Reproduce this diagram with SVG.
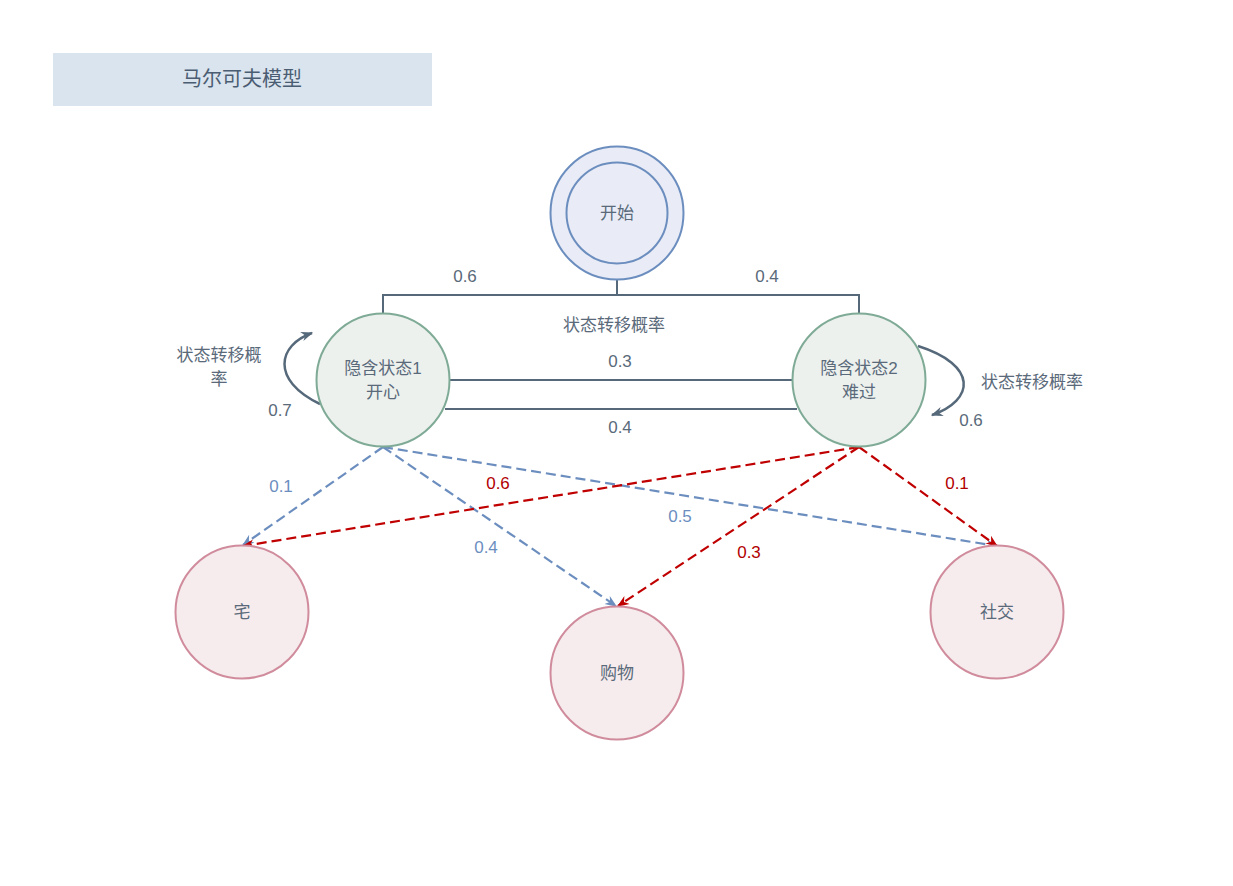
<svg xmlns="http://www.w3.org/2000/svg" width="1233" height="886" viewBox="0 0 1233 886">
<style>
text{font-family:"Liberation Sans","Noto Sans CJK SC",sans-serif;font-size:17px;text-anchor:middle;dominant-baseline:central;fill:#5a6a7a}
.start{fill:#e9ecf7;stroke:#6c8ebf;stroke-width:2}
.hid{fill:#edf1ee;stroke:#7eaa96;stroke-width:2}
.obs{fill:#f6ecee;stroke:#d08c9c;stroke-width:2}
.solid{fill:none;stroke:#56697a;stroke-width:2}
.blue{fill:none;stroke:#6c8ebf;stroke-width:2.2;stroke-dasharray:10 5}
.red{fill:none;stroke:#c00000;stroke-width:2.2;stroke-dasharray:10 5}
.lb{fill:#6c8ebf}
.lr{fill:#b20000}
</style>
<defs>
<marker id="ag" viewBox="0 0 10 10" refX="9" refY="5" markerWidth="12" markerHeight="12" markerUnits="userSpaceOnUse" orient="auto"><path d="M0,1 L10,5 L0,9 L3,5 z" fill="#56697a"/></marker>
<marker id="ab" viewBox="0 0 10 10" refX="9" refY="5" markerWidth="12" markerHeight="12" markerUnits="userSpaceOnUse" orient="auto"><path d="M0,1 L10,5 L0,9 L3,5 z" fill="#6c8ebf"/></marker>
<marker id="ar" viewBox="0 0 10 10" refX="9" refY="5" markerWidth="12" markerHeight="12" markerUnits="userSpaceOnUse" orient="auto"><path d="M0,1 L10,5 L0,9 L3,5 z" fill="#c00000"/></marker>
</defs>
<rect width="1233" height="886" fill="#fff"/>
<g id="title"><rect x="53" y="53" width="379" height="53" fill="#dae4ee"/><text x="242" y="79" style="font-size:20px;fill:#4b5d72">马尔可夫模型</text></g>
<g id="connectors">
<path class="solid" d="M617,280 V295 M383,313 V295 H859 V313"/>
<path class="solid" d="M450,380 H793 M445,409 H797"/>
<path d="M320,404 C270,380 278,345 312,333" fill="none" stroke="#56697a" stroke-width="2.5" marker-end="url(#ag)"/>
<path d="M918,346 C978,365 975,400 932,415" fill="none" stroke="#56697a" stroke-width="2.5" marker-end="url(#ag)"/>
<line class="blue" x1="383" y1="447" x2="243" y2="545" marker-end="url(#ab)"/>
<line class="blue" x1="383" y1="447" x2="616" y2="606" marker-end="url(#ab)"/>
<line class="blue" x1="383" y1="447" x2="997" y2="546" marker-end="url(#ab)"/>
<line class="red" x1="859" y1="447" x2="243" y2="546" marker-end="url(#ar)"/>
<line class="red" x1="859" y1="447" x2="618" y2="606" marker-end="url(#ar)"/>
<line class="red" x1="859" y1="447" x2="997" y2="546" marker-end="url(#ar)"/>
<text x="465" y="276">0.6</text>
<text x="767" y="276">0.4</text>
<text x="614" y="325">状态转移概率</text>
<text x="620" y="361">0.3</text>
<text x="620" y="427">0.4</text>
<text x="219" y="355">状态转移概</text>
<text x="219" y="379">率</text>
<text x="280" y="410">0.7</text>
<text x="1032" y="382">状态转移概率</text>
<text x="971" y="420">0.6</text>
<text class="lb" x="281" y="486">0.1</text>
<text class="lb" x="486" y="547">0.4</text>
<text class="lb" x="680" y="516">0.5</text>
<text class="lr" x="498" y="483">0.6</text>
<text class="lr" x="749" y="552">0.3</text>
<text class="lr" x="957" y="483">0.1</text>
</g>
<g id="start"><circle class="start" cx="617" cy="213" r="66.5"/><circle class="start" cx="617" cy="213" r="50.5"/><text x="617" y="213">开始</text></g>
<g id="hidden1"><circle class="hid" cx="383" cy="380" r="66.5"/><text x="383" y="368">隐含状态1</text><text x="383" y="392">开心</text></g>
<g id="hidden2"><circle class="hid" cx="859" cy="380" r="66.5"/><text x="859" y="368">隐含状态2</text><text x="859" y="392">难过</text></g>
<g id="home"><circle class="obs" cx="242" cy="612" r="66.5"/><text x="242" y="612">宅</text></g>
<g id="shop"><circle class="obs" cx="617" cy="673" r="66.5"/><text x="617" y="673">购物</text></g>
<g id="social"><circle class="obs" cx="997" cy="612" r="66.5"/><text x="997" y="612">社交</text></g>
</svg>
